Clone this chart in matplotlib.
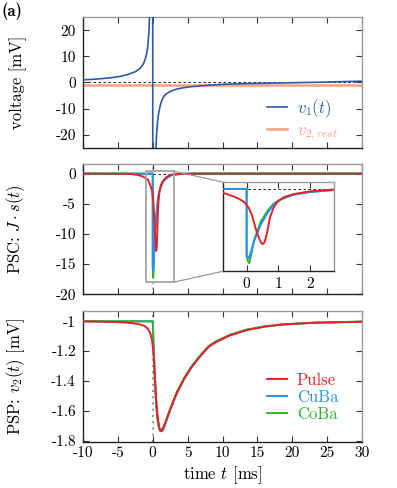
import numpy as np
import matplotlib.pyplot as plt
from matplotlib.patches import Rectangle, ConnectionPatch

plt.rcParams['font.family'] = 'cmr10'
plt.rcParams['mathtext.fontset'] = 'cm'
plt.rcParams['axes.unicode_minus'] = False

# --- datos ---
# panel 1: v1(t) (rama izquierda + rama derecha, con el salto en t=0)
v1_t = [-10, -8, -6, -4.5, -3.5, -2.5, -1.8, -1.37, -1.1, -0.89, -0.75, -0.65, -0.55, -0.46, -0.3, -0.02,
        0.02, 0.3, 0.46, 0.55, 0.66, 0.8, 1.04, 1.25, 1.53, 1.9, 2.4, 3.0, 3.5, 4.4, 5.4, 6.8, 8, 9.3,
        11, 14, 17, 19, 21.5, 24, 27, 30]
v1_v = [1.0, 1.3, 1.8, 2.4, 3.1, 4.1, 5.4, 7.0, 8.7, 10.8, 13.0, 15.9, 19.5, 24.9, 38, 575,
        -575, -38, -25, -20, -16, -12.5, -9.2, -7.2, -5.5, -4.4, -3.6, -2.9, -2.5, -2.0, -1.65, -1.3, -1.05, -0.8,
        -0.6, -0.4, -0.25, -0.15, -0.02, 0.1, 0.3, 0.5]
rest_t = [-10, 30]
rest_v = [-1, -1]

# panel 2: PSC J*s(t)
psc_t_pulse = [-10, -4, -3, -2, -1.5, -1, -0.73, -0.5, -0.29, -0.08, 0.07, 0.18, 0.28, 0.39, 0.44, 0.5,
               0.56, 0.6, 0.65, 0.73, 0.84, 0.96, 1.17, 1.48, 2.0, 2.73, 3.5, 4.5, 6, 30]
psc_v_pulse = [0, -0.02, -0.08, -0.25, -0.45, -0.75, -0.93, -1.5, -2.1, -3.0, -4.4, -6.4, -9.1, -11.4, -12.3, -12.8,
               -12.4, -11.4, -9.8, -6.7, -4.4, -3.0, -1.9, -1.2, -0.54, -0.15, -0.06, -0.02, 0, 0]
psc_t_cuba = [-10, 0, 0, 0.03, 0.07, 0.12, 0.23, 0.44, 0.65, 0.85, 1.06, 1.48, 2.0, 2.73, 3.5, 4.5, 6, 30]
psc_v_cuba = [0, 0, -15.3, -15.9, -16.0, -15.0, -12.2, -8.3, -5.6, -3.6, -2.5, -1.3, -0.7, -0.25, -0.1, -0.03, 0, 0]
psc_t_coba = [-10, 0, 0, 0.04, 0.08, 0.15, 0.25, 0.44, 0.65, 0.85, 1.06, 1.48, 2.0, 2.73, 4, 6, 30]
psc_v_coba = [0, 0, -15.5, -16.8, -17.2, -15.0, -11.5, -7.6, -5.1, -3.4, -2.4, -1.3, -0.7, -0.25, -0.06, 0, 0]

# panel 3: PSP v2(t)
psp_t_pulse = [-10, -6, -4, -3, -2, -1.2, -0.7, -0.35, -0.1, 0.1, 0.3, 0.5, 0.7, 0.9, 1.1, 1.3, 1.8, 2.5,
               3.5, 4.5, 5.5, 6.5, 8, 9, 11, 13.5, 16, 18.5, 23, 30]
psp_v_pulse = [-1.0, -1.004, -1.008, -1.012, -1.019, -1.03, -1.05, -1.08, -1.125, -1.21, -1.37, -1.53, -1.64,
               -1.705, -1.735, -1.73, -1.68, -1.59, -1.475, -1.385, -1.31, -1.25, -1.17, -1.14, -1.095, -1.058,
               -1.036, -1.022, -1.01, -1.003]
psp_t_syn = [-10, 0, 0.1, 0.3, 0.5, 0.7, 0.9, 1.1, 1.3, 1.5, 1.8, 2.5, 3.5, 4.5, 5.5, 6.5, 8, 9, 11, 13.5,
             16, 18.5, 23, 30]
psp_v_cuba = [-1, -1, -1.12, -1.36, -1.54, -1.65, -1.71, -1.735, -1.738, -1.728, -1.69, -1.595, -1.478, -1.388,
              -1.313, -1.252, -1.172, -1.141, -1.096, -1.058, -1.036, -1.022, -1.01, -1.003]
psp_v_coba = [-1, -1, -1.15, -1.40, -1.575, -1.67, -1.72, -1.735, -1.73, -1.718, -1.68, -1.585, -1.468, -1.38,
              -1.305, -1.245, -1.166, -1.136, -1.091, -1.055, -1.034, -1.02, -1.009, -1.002]

x_ticks = [-10, -5, 0, 5, 10, 15, 20, 25, 30]
v_ticks = [-20, -10, 0, 10, 20]
psc_ticks = [0, -5, -10, -15, -20]
psp_ticks = [-1, -1.2, -1.4, -1.6, -1.8]
psp_labels = ['-1', '-1.2', '-1.4', '-1.6', '-1.8']
inset_ticks = [0, 1, 2]

# colores
c_v1 = '#2a5aab'
c_rest = '#fc9f82'
c_pulse = '#e82027'
c_cuba = '#2b8ef5'
c_coba = '#2db52d'


def estilo(ax):
    for s in ['top', 'right']:
        ax.spines[s].set_color('#999999')
    for s in ['left', 'bottom']:
        ax.spines[s].set_color('#222222')
    for s in ax.spines.values():
        s.set_linewidth(1.0)
    ax.tick_params(direction='in', top=True, right=True, length=4, width=0.8,
                   labelsize=11, color='#333333', pad=5)


fig = plt.figure(figsize=(3.97, 4.88), dpi=100)
ax1 = fig.add_axes([0.209, 0.697, 0.703, 0.268])
ax2 = fig.add_axes([0.209, 0.397, 0.703, 0.267])
ax3 = fig.add_axes([0.209, 0.094, 0.703, 0.269])
axin = fig.add_axes([0.561, 0.444, 0.281, 0.183])

# panel 1
ax1.axhline(0, color='k', ls=(0, (3, 3)), lw=0.6, zorder=1)
ax1.plot(rest_t, rest_v, color=c_rest, lw=1.8, label=r'$v_{2,rest}$', zorder=2)
ax1.plot(v1_t, v1_v, color=c_v1, lw=1.2, label=r'$v_1(t)$', zorder=3)
ax1.set_xlim(-10, 30)
ax1.set_ylim(-25, 25)
ax1.set_xticks(x_ticks)
ax1.set_xticklabels([])
ax1.set_yticks(v_ticks)
ax1.set_ylabel('voltage [mV]', fontsize=12)
ax1.yaxis.set_label_coords(-0.2, 0.5)
estilo(ax1)
h, l = ax1.get_legend_handles_labels()
leg = ax1.legend(h[::-1], l[::-1], loc='upper left', bbox_to_anchor=(0.635, 0.44), frameon=False,
                 fontsize=12, handlelength=1.2, handletextpad=0.6, labelspacing=0.15, borderaxespad=0)
for txt, c in zip(leg.get_texts(), [c_v1, c_rest]):
    txt.set_color(c)

# panel 2
for ax in [ax2, axin]:
    ax.axhline(0, color='k', ls=(0, (3, 3)), lw=0.6, zorder=1)
    ax.plot(psc_t_coba, psc_v_coba, color=c_coba, lw=1.4, zorder=2)
    ax.plot(psc_t_cuba, psc_v_cuba, color=c_cuba, lw=1.4, zorder=3)
    ax.plot(psc_t_pulse, psc_v_pulse, color=c_pulse, lw=1.4, zorder=4)
ax2.axvline(0, color='#999999', ls=(0, (1, 2)), lw=1.2, zorder=0)
ax2.set_xlim(-10, 30)
ax2.set_ylim(-20, 1.6)
ax2.set_xticks(x_ticks)
ax2.set_xticklabels([])
ax2.set_yticks(psc_ticks)
ax2.set_ylabel(r'PSC: $J\cdot s(t)$', fontsize=12)
ax2.yaxis.set_label_coords(-0.2, 0.5)
estilo(ax2)

axin.set_xlim(-0.75, 2.75)
axin.set_ylim(-19.1, 1.6)
axin.set_xticks(inset_ticks)
axin.set_yticks([])
estilo(axin)
axin.tick_params(right=False, pad=4)

# recuadro del zoom y lineas de union
ax2.add_patch(Rectangle((-1, -18), 4, 18.4, fill=False, ec='#aaaaaa', lw=1.4, zorder=5))
for ya, yb in [(0.4, 1), (-18, 0)]:
    cp = ConnectionPatch(xyA=(3, ya), coordsA=ax2.transData, xyB=(0, yb), coordsB=axin.transAxes,
                         color='#999999', lw=0.9)
    fig.add_artist(cp)

# panel 3
ax3.axvline(0, color='#999999', ls=(0, (1, 2)), lw=1.5, zorder=0)
ax3.plot(psp_t_syn, psp_v_cuba, color=c_cuba, lw=1.4, label='CuBa', zorder=2)
ax3.plot(psp_t_syn, psp_v_coba, color=c_coba, lw=1.4, label='CoBa', zorder=3)
ax3.plot(psp_t_pulse, psp_v_pulse, color=c_pulse, lw=1.4, label='Pulse', zorder=4)
ax3.set_xlim(-10, 30)
ax3.set_ylim(-1.81, -0.93)
ax3.set_xticks(x_ticks)
ax3.set_xticklabels([str(x) for x in x_ticks])
ax3.set_yticks(psp_ticks)
ax3.set_yticklabels(psp_labels)
ax3.set_ylabel(r'PSP: $v_2(t)$ [mV]', fontsize=12)
ax3.yaxis.set_label_coords(-0.2, 0.5)
ax3.set_xlabel(r'time $t$ [ms]', fontsize=12)
ax3.xaxis.set_label_coords(0.5, -0.165)
estilo(ax3)
ax3.tick_params(axis='x', pad=3)
h, l = ax3.get_legend_handles_labels()
orden = [2, 0, 1]
leg3 = ax3.legend([h[i] for i in orden], [l[i] for i in orden], loc='upper left',
                  bbox_to_anchor=(0.635, 0.58), frameon=False, fontsize=12, handlelength=1.2,
                  handletextpad=0.6, labelspacing=0.1, borderaxespad=0)
for txt, c in zip(leg3.get_texts(), [c_pulse, c_cuba, c_coba]):
    txt.set_color(c)

fig.text(0.005, 0.995, '(a)', family='cmb10', fontsize=12, va='top', ha='left')

fig.savefig('out.png', dpi=100)
